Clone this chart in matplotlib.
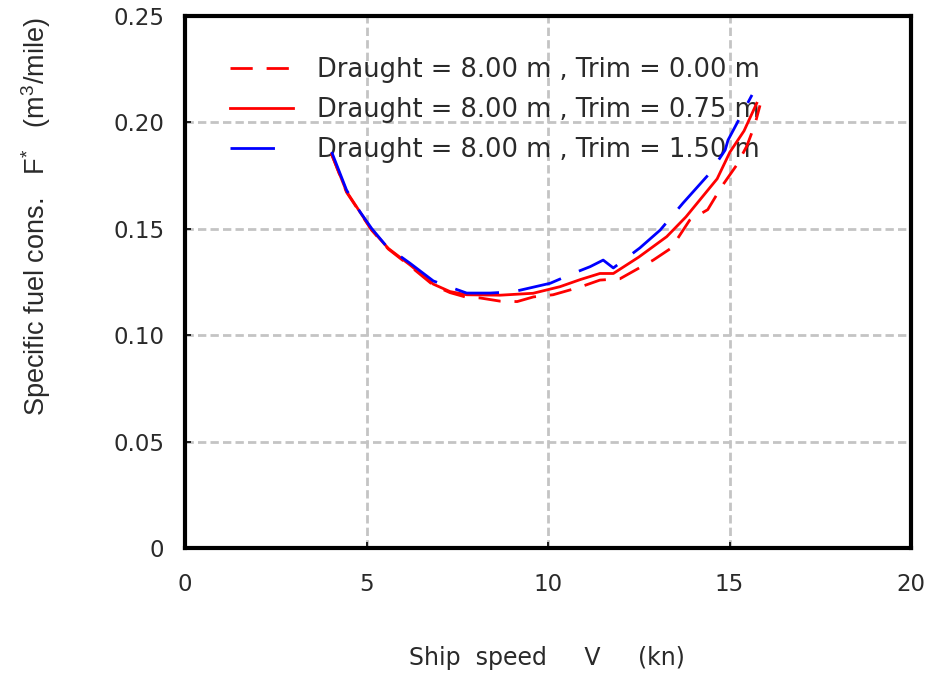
import matplotlib
matplotlib.use("Agg")
import matplotlib.pyplot as plt

# ---- data ----
v_trim000 = [4.04, 4.45, 5.14, 5.60, 6.20, 6.84, 7.30, 7.76, 8.13, 8.68, 9.15, 9.60, 10.14,
             10.88, 11.43, 11.98, 12.90, 13.40, 13.90, 14.40, 14.79, 15.20, 15.48, 15.70, 15.84]
f_trim000 = [0.1850, 0.1672, 0.1494, 0.1405, 0.1325, 0.1235, 0.1200, 0.1178, 0.1175, 0.1160,
             0.1158, 0.1180, 0.1190, 0.1226, 0.1259, 0.1265, 0.1353, 0.1410, 0.1540, 0.1590,
             0.1700, 0.1800, 0.1890, 0.1990, 0.2080]

v_trim075 = [4.04, 4.45, 5.14, 5.60, 6.20, 6.84, 7.30, 7.76, 8.68, 9.59, 10.33, 10.90, 11.43,
             11.80, 12.50, 13.27, 13.80, 14.66, 15.01, 15.40, 15.75]
f_trim075 = [0.1850, 0.1675, 0.1496, 0.1408, 0.1330, 0.1240, 0.1205, 0.1190, 0.1188, 0.1197,
             0.1228, 0.1262, 0.1290, 0.1290, 0.1367, 0.1463, 0.1556, 0.1735, 0.1860, 0.1960,
             0.2090]

v_trim150 = [4.04, 4.45, 4.82, 5.14, 5.56, 6.20, 6.84, 7.30, 7.76, 8.40, 9.04, 10.06, 10.70,
             11.16, 11.52, 11.80, 12.53, 13.09, 13.72, 14.46, 14.88, 14.96, 15.62]
f_trim150 = [0.1861, 0.1682, 0.1580, 0.1502, 0.1416, 0.1338, 0.1255, 0.1226, 0.1198, 0.1198,
             0.1204, 0.1244, 0.1291, 0.1322, 0.1353, 0.1316, 0.1410, 0.1494, 0.1621, 0.1762,
             0.1870, 0.1917, 0.2129]

labels = ["Draught = 8.00 m , Trim = 0.00 m",
          "Draught = 8.00 m , Trim = 0.75 m",
          "Draught = 8.00 m , Trim = 1.50 m"]

x_ticks = [0, 5, 10, 15, 20]
y_ticks = [0, 0.05, 0.10, 0.15, 0.20, 0.25]
y_ticklabels = ["0", "0.05", "0.10", "0.15", "0.20", "0.25"]

# ---- figure ----
plt.rcParams['font.family'] = ['DejaVu Sans']
plt.rcParams['mathtext.fontset'] = 'custom'
plt.rcParams['mathtext.rm'] = 'Liberation Sans'
plt.rcParams['mathtext.it'] = 'Liberation Sans:italic'

fig = plt.figure(figsize=(9.32, 6.77), dpi=100)
ax = fig.add_axes([185/932, 1-548/677, (911-185)/932, (548-16)/677])

ax.plot(v_trim000, f_trim000, color=(1, 0, 0), lw=2.0, linestyle=(0, (8, 5)), label=labels[0], zorder=6)
ax.plot(v_trim075, f_trim075, color=(1, 0, 0), lw=2.0, linestyle='-', label=labels[1], zorder=6)
ax.plot(v_trim150, f_trim150, color=(0, 0, 1), lw=2.0, linestyle=(0, (16, 7)), label=labels[2], zorder=6)

ax.set_xlim(0, 20)
ax.set_ylim(0, 0.25)
ax.set_xticks(x_ticks)
ax.set_yticks(y_ticks)
ax.set_yticklabels(y_ticklabels)
ax.tick_params(axis='both', direction='in', length=4, width=1.2, labelsize=16.5,
               labelcolor='#2a2a2a')
ax.tick_params(axis='y', pad=15)
ax.tick_params(axis='x', pad=18)

ax.grid(True, color='#c4c4c4', linestyle=(0, (3, 1.5)), linewidth=2.0)
ax.set_axisbelow(True)
for s in ax.spines.values():
    s.set_linewidth(3.0)
    s.set_color('black')

ax.set_xlabel("Ship  speed     V     (kn)", fontsize=17, color='#2a2a2a')
ax.xaxis.set_label_coords((547-185)/726, (548-658)/532)
ax.xaxis.label.set_va('center')

ax.set_ylabel(r"Specific fuel cons.   F$^{*}$   (m$^{3}$/mile)", fontsize=19.5,
              family='Liberation Sans', color='#2a2a2a')
ax.yaxis.set_label_coords((36-185)/726, (548-217)/532)
ax.yaxis.label.set_va('center')

leg = ax.legend(loc='upper left', bbox_to_anchor=(230/932, 1-57/677),
                bbox_transform=fig.transFigure, frameon=False, fontsize=18.5,
                handlelength=2.45, handletextpad=0.95, labelspacing=0.55,
                borderpad=0, borderaxespad=0)
leg.set_zorder(5)
for t in leg.get_texts():
    t.set_color('#2a2a2a')

fig.savefig("out.png", dpi=100)
